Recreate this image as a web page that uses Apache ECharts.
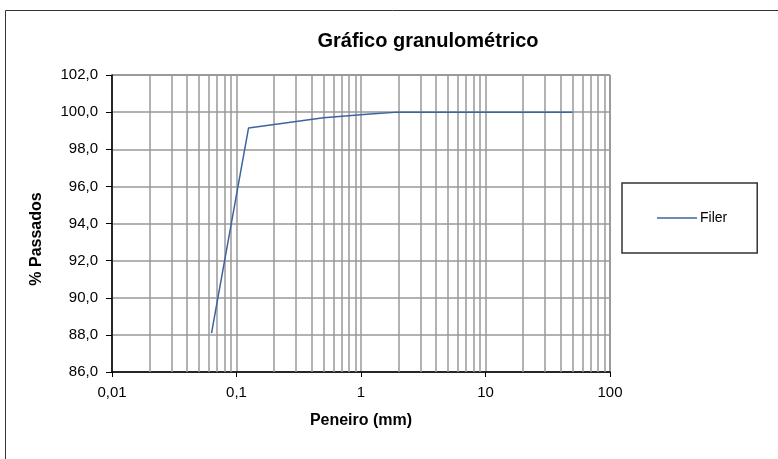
<!DOCTYPE html>
<html><head><meta charset="utf-8">
<script src="https://cdn.jsdelivr.net/npm/echarts@6/dist/echarts.min.js"></script>
<style>html,body{margin:0;padding:0;background:#fff}#c{width:778px;height:459px}</style>
</head><body><div id="c"></div>
<script>
var seriesName = 'Filer';
var sieveSizes = [0.063, 0.125, 0.5, 1.18, 2, 4.75, 9.5, 12.5, 19, 25, 37.5, 50];
var passing = [88.1, 99.15, 99.7, 99.9, 100, 100, 100, 100, 100, 100, 100, 100];
var minorGridValues = [0.02,0.03,0.04,0.05,0.06,0.07,0.08,0.09,
  0.2,0.3,0.4,0.5,0.6,0.7,0.8,0.9, 2,3,4,5,6,7,8,9, 20,30,40,50,60,70,80,90];
var xTitle = 'Peneiro (mm)';
var yTitle = '% Passados';
var chartTitle = 'Gráfico granulométrico';

var font = 'Liberation Sans, Arial, sans-serif';
var lineColor = '#3c64a0';
var chart = echarts.init(document.getElementById('c'), null, {renderer: 'canvas'});
var pts = sieveSizes.map(function (s, i) { return [s, passing[i]]; });
chart.setOption({
  animation: false,
  backgroundColor: '#fff',
  graphic: [{
    type: 'rect', shape: {x: 5.5, y: 10.5, width: 800, height: 460},
    style: {fill: 'none', stroke: '#333', lineWidth: 1}, silent: true
  }, {
    type: 'text', x: 428, y: 41, silent: true,
    style: {text: chartTitle, fontFamily: font, fontSize: 20, fontWeight: 'bold', fill: '#000',
      align: 'center', verticalAlign: 'middle'}
  }, {
    type: 'text', x: 37, y: 239, rotation: Math.PI / 2, silent: true,
    style: {text: yTitle, fontFamily: font, fontSize: 16, fontWeight: 'bold', fill: '#000',
      align: 'center', verticalAlign: 'middle'}
  }],
  legend: {
    left: 622, top: 183, orient: 'vertical',
    padding: [28, 30, 28, 35],
    borderColor: '#333', borderWidth: 1.5,
    itemWidth: 40, itemHeight: 14, itemGap: 0,
    itemStyle: {color: lineColor},
    textStyle: {fontFamily: font, fontSize: 14, color: '#000', padding: [0, 0, 0, -2]},
    data: [{name: seriesName, icon: 'path://M0,0 L40,0 L40,1.6 L0,1.6 Z'}]
  },
  grid: {left: 112, right: 168, top: 75, bottom: 87, show: true, borderColor: '#444', borderWidth: 1},
  xAxis: {
    type: 'log', logBase: 10, min: 0.01, max: 100,
    name: xTitle, nameLocation: 'middle', nameGap: 41,
    nameTextStyle: {fontFamily: font, fontSize: 16, fontWeight: 'bold', color: '#000'},
    axisLine: {show: true, lineStyle: {color: '#000', width: 1.5}},
    axisTick: {show: true, inside: false, length: 5, lineStyle: {color: '#000'}},
    axisLabel: {fontFamily: font, fontSize: 15, color: '#000', margin: 13,
      formatter: function (v) { return String(+v.toPrecision(6)).replace('.', ','); }},
    splitLine: {show: true, lineStyle: {color: '#999', width: 1.5}}
  },
  yAxis: {
    type: 'value', min: 86, max: 102, interval: 2,
    axisLine: {show: true, lineStyle: {color: '#000', width: 1.5}},
    axisTick: {show: true, length: 6, lineStyle: {color: '#000'}},
    axisLabel: {fontFamily: font, fontSize: 15, color: '#000', margin: 14,
      formatter: function (v) { return v.toFixed(1).replace('.', ','); }},
    splitLine: {show: true, lineStyle: {color: '#999', width: 1.5}}
  },
  series: [{
    name: '__grid', type: 'line', data: [], silent: true,
    markLine: {
      silent: true, symbol: 'none', animation: false,
      label: {show: false},
      lineStyle: {color: '#999', width: 1.5, type: 'solid'},
      data: minorGridValues.map(function (v) { return {xAxis: v}; })
    }
  }, {
    name: seriesName, type: 'line', data: pts, symbol: 'none',
    lineStyle: {color: lineColor, width: 1.5}, itemStyle: {color: lineColor}, z: 5
  }]
});
</script></body></html>
